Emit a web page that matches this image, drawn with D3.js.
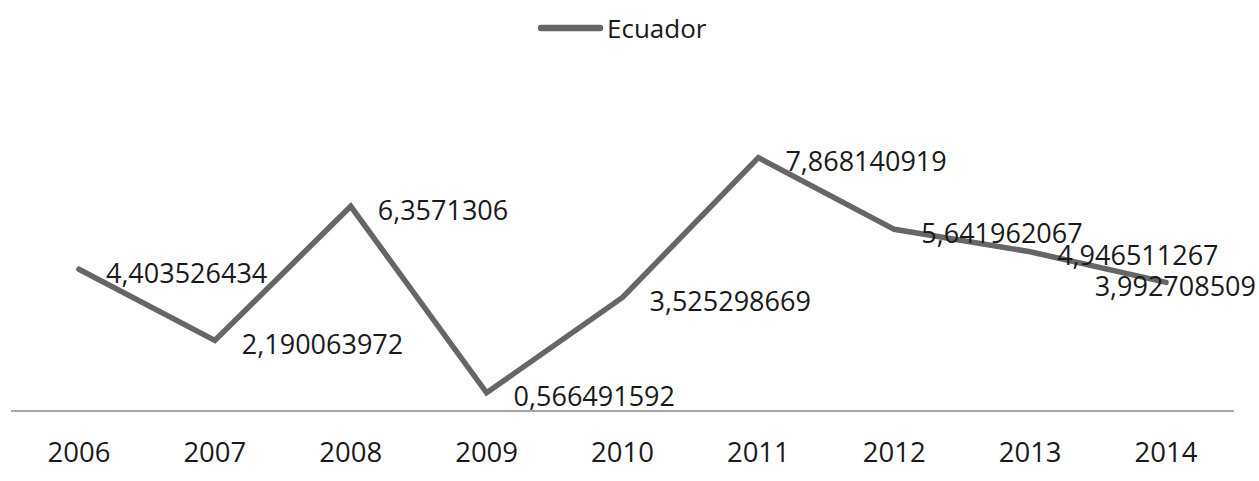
<!DOCTYPE html>
<html>
<head>
<meta charset="utf-8">
<script src="https://cdn.jsdelivr.net/npm/d3@7"></script>
<style>
  html, body { margin: 0; padding: 0; background: #fff; }
  svg { display: block; font-family: "Open Sans", "Liberation Sans", sans-serif; }
</style>
</head>
<body>
<svg id="chart" width="1259" height="481"></svg>
<script>
const years = ["2006", "2007", "2008", "2009", "2010", "2011", "2012", "2013", "2014"];
const ecuador = [4.403526434, 2.190063972, 6.3571306, 0.566491592, 3.525298669, 7.868140919, 5.641962067, 4.946511267, 3.992708509];
const labels = ["4,403526434", "2,190063972", "6,3571306", "0,566491592", "3,525298669", "7,868140919", "5,641962067", "4,946511267", "3,992708509"];
const seriesName = "Ecuador";

const W = 1259, H = 481;
const svg = d3.select("#chart");

const x = d3.scaleBand().domain(years).range([11, 1234]).padding(0);
const y = d3.scaleLinear().domain([0, 10]).range([411, 89]);
const cx = d => x(d) + x.bandwidth() / 2;

const lineColor = "#666666";

// axis line
svg.append("line")
  .attr("x1", x.range()[0]).attr("x2", x.range()[1])
  .attr("y1", y(0)).attr("y2", y(0))
  .attr("stroke", "#a6a6a6").attr("stroke-width", 2);

// category labels
svg.append("g").selectAll("text").data(years).join("text")
  .attr("x", d => cx(d))
  .attr("y", 451)
  .attr("text-anchor", "middle")
  .attr("dominant-baseline", "central")
  .attr("font-size", 27.5)
  .attr("fill", "#1a1a1a")
  .text(d => d);

// line
const data = years.map((yr, i) => ({ yr, v: ecuador[i], lab: labels[i] }));
svg.append("path")
  .datum(data)
  .attr("fill", "none")
  .attr("stroke", lineColor)
  .attr("stroke-width", 5.5)
  .attr("stroke-linejoin", "miter")
  .attr("stroke-linecap", "round")
  .attr("d", d3.line().x(d => cx(d.yr)).y(d => y(d.v)));

// data labels
const lg = svg.append("g");
data.forEach(d => {
  const t = lg.append("text")
    .attr("x", cx(d.yr) + 27)
    .attr("y", y(d.v) + 3)
    .attr("dominant-baseline", "central")
    .attr("font-size", 27)
    .attr("fill", "#1a1a1a")
    .text(d.lab);
  const w = t.node().getComputedTextLength();
  if (cx(d.yr) + 27 + w > 1256) t.attr("x", 1256 - w);
});

// legend
const lgx = 538, lgy = 28;
svg.append("line")
  .attr("x1", lgx + 3).attr("x2", lgx + 62)
  .attr("y1", lgy).attr("y2", lgy)
  .attr("stroke", lineColor).attr("stroke-width", 6.5)
  .attr("stroke-linecap", "round");
svg.append("text")
  .attr("x", 607).attr("y", lgy)
  .attr("dominant-baseline", "central")
  .attr("font-size", 26)
  .attr("fill", "#1a1a1a")
  .text(seriesName);
</script>
</body>
</html>
